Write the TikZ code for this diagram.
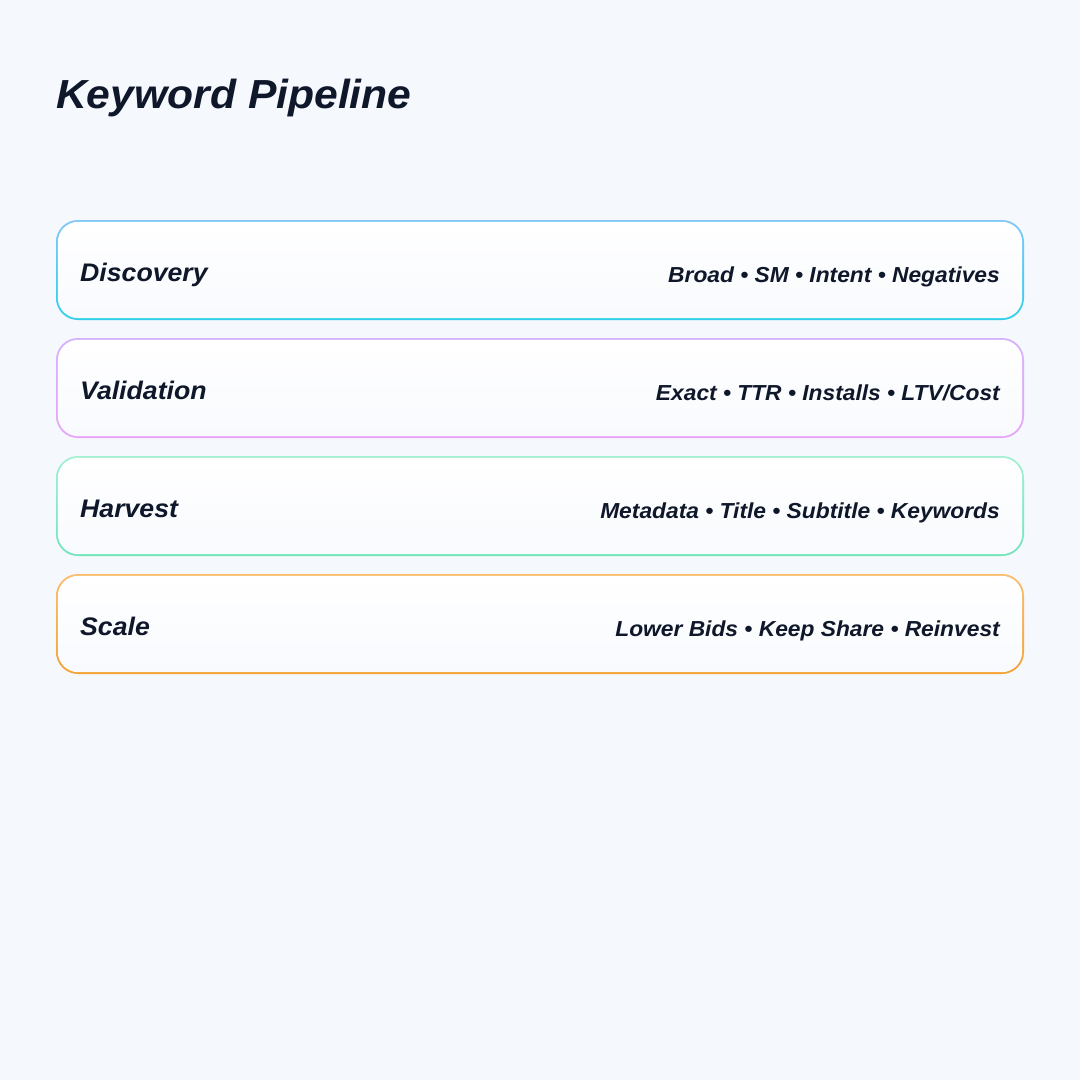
\documentclass[tikz,border=0pt]{standalone}
\usepackage{fontspec}
\setmainfont{Liberation Sans}[FakeStretch=1.05]
\definecolor{bg}{HTML}{F5F8FD}
\definecolor{ink}{HTML}{0F172A}
\definecolor{discA}{HTML}{80C8F8}
\definecolor{discB}{HTML}{30CFEA}
\definecolor{valA}{HTML}{D6B2FC}
\definecolor{valB}{HTML}{E8A6F8}
\definecolor{harA}{HTML}{A3F0D2}
\definecolor{harB}{HTML}{72E5BA}
\definecolor{scaA}{HTML}{FBBD6C}
\definecolor{scaB}{HTML}{F5A232}
\definecolor{boxlow}{HTML}{F8FAFE}
\tikzset{
  titletext/.style={anchor=base west, inner sep=0, text=ink, font=\fontsize{40.6}{48}\selectfont\bfseries\itshape},
  stagelabel/.style={anchor=base west, inner sep=0, text=ink, font=\fontsize{25.4}{30}\selectfont\bfseries\itshape},
  stageitems/.style={anchor=base east, inner sep=0, text=ink, font=\fontsize{21.7}{26}\selectfont\bfseries\itshape},
}
\newcommand{\stagebox}[6]{%
  % #1 top y, #2 name, #3 label, #4 items, #5 colour A (top), #6 colour B (bottom)
  \shade[rounded corners=22pt, top color=#5, bottom color=#6]
    (56,#1) rectangle (1024,#1+100);
  \shade[rounded corners=20.5pt, top color=white, bottom color=boxlow]
    (57.8,#1+1.8) rectangle (1022.2,#1+98.2);
  \node[stagelabel] (#2label) at (80,#1+61) {#3};
  \node[stageitems] (#2items) at (1000,#1+62) {#4};
}
\begin{document}
\begin{tikzpicture}[x=1pt,y=-1pt]
\fill[bg] (0,0) rectangle (1080,1080);
\node[titletext] (title) at (56,108) {Keyword Pipeline};
\stagebox{220}{disc}{Discovery}{Broad • SM • Intent • Negatives}{discA}{discB}
\stagebox{338}{val}{Validation}{Exact • TTR • Installs • LTV/Cost}{valA}{valB}
\stagebox{456}{har}{Harvest}{Metadata • Title • Subtitle • Keywords}{harA}{harB}
\stagebox{574}{sca}{Scale}{Lower Bids • Keep Share • Reinvest}{scaA}{scaB}
\end{tikzpicture}
\end{document}
